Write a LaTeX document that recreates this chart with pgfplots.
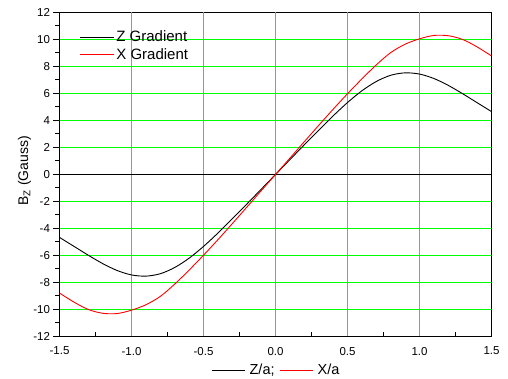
\documentclass[border=0pt]{standalone}
\usepackage{pgfplots}
\pgfplotsset{compat=1.18}
\usepackage{pgfplotstable}
\usepackage{fontspec}
\setmainfont{Liberation Sans}
\definecolor{gridgreen}{RGB}{0,255,0}

\pgfplotstableread{
x     z      xg
-1.5  -4.66  -8.78
-1.4  -5.32  -9.45
-1.3  -5.98  -10.00
-1.2  -6.60  -10.28
-1.1  -7.11  -10.30
-1.0  -7.44  -10.05
-0.9  -7.53  -9.65
-0.8  -7.35  -9.03
-0.7  -6.89  -8.12
-0.6  -6.20  -7.08
-0.5  -5.33  -5.98
-0.4  -4.34  -4.83
-0.3  -3.28  -3.64
-0.2  -2.20  -2.43
-0.1  -1.10  -1.21
0.0   0.00   0.00
0.1   1.10   1.21
0.2   2.20   2.43
0.3   3.28   3.64
0.4   4.34   4.83
0.5   5.33   5.98
0.6   6.20   7.08
0.7   6.89   8.12
0.8   7.35   9.03
0.9   7.53   9.65
1.0   7.44   10.05
1.1   7.11   10.30
1.2   6.60   10.28
1.3   5.98   10.00
1.4   5.32   9.45
1.5   4.66   8.78
}\datatable

\begin{document}
\begin{tikzpicture}
\useasboundingbox (-59.5pt,-42.5pt) rectangle (448.5pt,336.5pt);
\begin{axis}[
  scale only axis,
  width=432pt, height=324pt,
  xmin=-1.5, xmax=1.5, ymin=-12, ymax=12,
  xtick={-1.5,-1,...,1.5},
  ytick={-12,-10,...,12},
  minor xtick={-1.25,-0.75,...,1.25},
  minor ytick={-11,-9,...,11},
  xticklabel style={yshift=-7pt, /pgf/number format/.cd, fixed, fixed zerofill, precision=1},
  /pgf/number format/assume math mode=true,
  tick pos=left,
  xtick align=inside,
  ytick align=outside,
  major tick length=6pt,
  minor tick length=4pt,
  axis line style={black, line width=1pt},
  tick style={black, line width=1pt},
  tick label style={font=\fontsize{11.5}{13}\selectfont},
  xlabel={\textcolor{black}{\rule[0.3em]{33pt}{0.8pt}}\hspace{5pt}Z/a;\hspace{5pt}\textcolor{red}{\rule[0.3em]{33pt}{0.8pt}}\hspace{5pt}X/a},
  xlabel style={at={(axis description cs:0.5,0)}, anchor=center, yshift=-34pt, font=\fontsize{14.5}{16}\selectfont},
  ylabel={B\textsubscript{Z} (Gauss)},
  ylabel style={at={(axis description cs:0,0.511)}, anchor=center, yshift=35pt, font=\fontsize{14}{16}\selectfont},
  legend style={draw=none, fill=none, at={(axis description cs:0.04,0.955)}, anchor=north west,
    font=\fontsize{15}{17}\selectfont,
    nodes={inner sep=1.5pt, font=\fontsize{15}{17}\selectfont}, row sep=2.5pt},
  legend cell align=left,
  legend image code/.code={\draw[#1] (0pt,0pt) -- (34pt,0pt);},
]
\pgfplotsinvokeforeach{-1,-0.5,0,0.5,1}{
  \draw[gridgreen, line width=1.6pt] (axis cs:#1,-12) -- (axis cs:#1,12);
}
\pgfplotsinvokeforeach{-10,-8,-6,-4,-2,2,4,6,8,10}{
  \draw[gridgreen, line width=1.6pt] (axis cs:-1.5,#1) -- (axis cs:1.5,#1);
}
\addplot[black, line width=1pt, forget plot] coordinates {(-1.5,0) (1.5,0)};
\addplot[black, line width=0.9pt, smooth] table[x=x, y=z] {\datatable};
\addlegendentry{Z Gradient}
\addplot[red, line width=0.9pt, smooth] table[x=x, y=xg] {\datatable};
\addlegendentry{X Gradient}
\end{axis}
\end{tikzpicture}
\end{document}
